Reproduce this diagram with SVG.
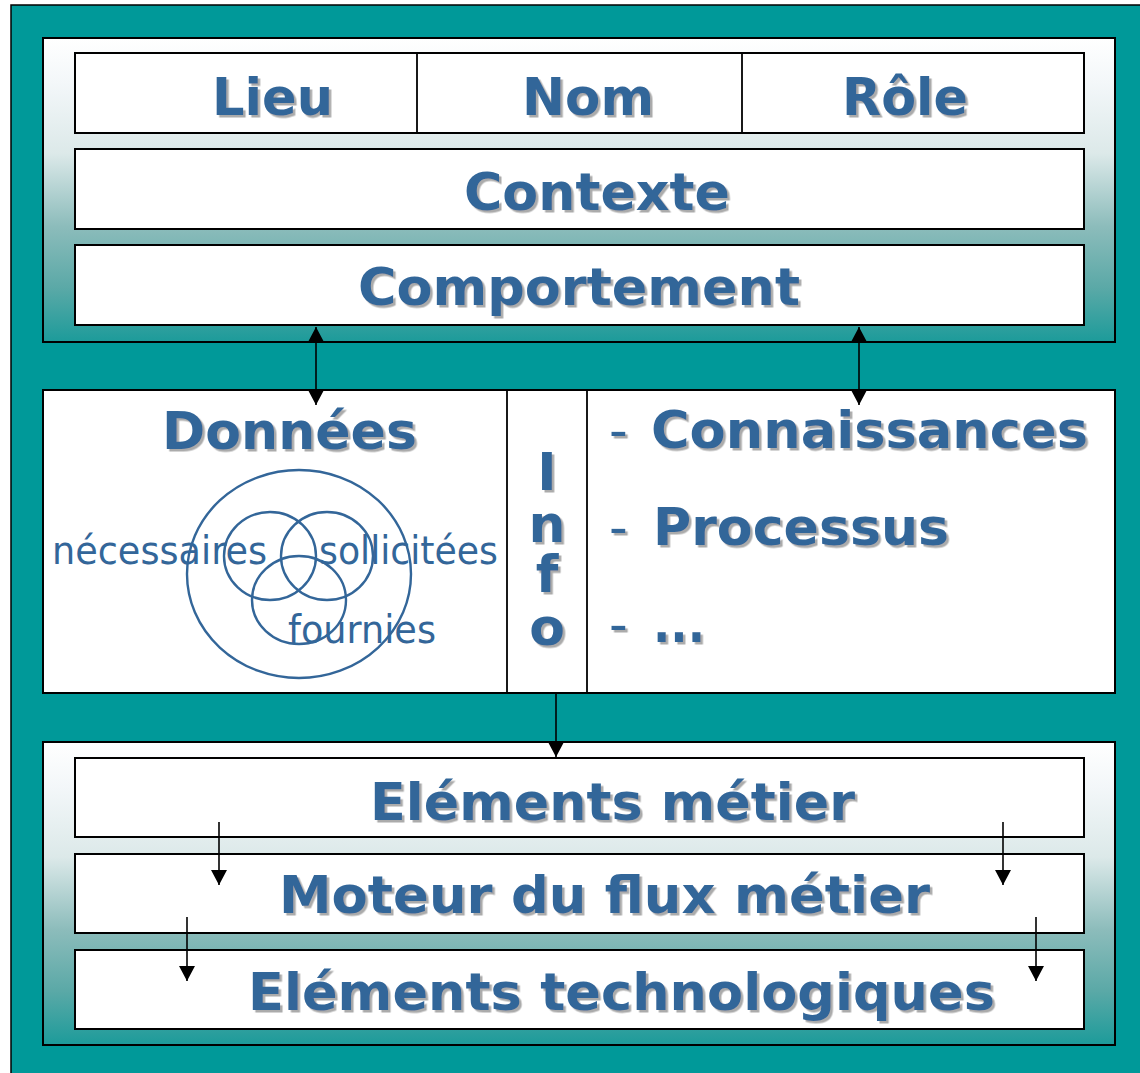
<svg xmlns="http://www.w3.org/2000/svg" width="1140" height="1073" viewBox="0 0 1140 1073">
  <style>
    .box { fill: #ffffff; stroke: #000000; stroke-width: 2; }
    .panel { stroke: #000000; stroke-width: 2; }
    .div { stroke: #000000; stroke-width: 1.8; fill: none; }
    .t { font-family: "DejaVu Sans", Verdana, sans-serif; font-weight: bold; font-size: 52px; fill: #336699; filter: url(#sh); }
    .d { font-family: "DejaVu Sans", Verdana, sans-serif; font-size: 52px; fill: #336699; filter: url(#sh); }
    .n { font-family: "DejaVu Sans", Verdana, sans-serif; font-size: 39px; fill: #336699; }
    .venn { fill: none; stroke: #336699; stroke-width: 2.4; }
    .conn { stroke: #000000; stroke-width: 1.6; fill: none; }
  </style>
  <defs>
    <linearGradient id="pg" x1="0" y1="0" x2="0" y2="1">
      <stop offset="0" stop-color="#ffffff"/>
      <stop offset="0.15" stop-color="#f3f7f9"/>
      <stop offset="0.38" stop-color="#dce9e9"/>
      <stop offset="0.62" stop-color="#8cbcbb"/>
      <stop offset="0.82" stop-color="#5ba9a7"/>
      <stop offset="1" stop-color="#1c9b9a"/>
    </linearGradient>
    <filter id="sh" x="-5%" y="-20%" width="115%" height="150%">
      <feDropShadow dx="2.5" dy="2.5" stdDeviation="0.7" flood-color="#8f8f8f" flood-opacity="0.75"/>
    </filter>
    <marker id="ah" viewBox="0 0 15 16" markerUnits="userSpaceOnUse" markerWidth="15" markerHeight="16" refX="15" refY="8" orient="auto-start-reverse">
      <path d="M0,0 L15,8 L0,16 z" fill="#000000"/>
    </marker>
  </defs>

  <rect x="0" y="0" width="1140" height="1073" fill="#ffffff"/>
  <rect id="frame" x="11" y="5" width="1140" height="1080" fill="#009999" stroke="#000000" stroke-width="1.5"/>

  <g id="top-panel">
    <rect class="panel" x="43" y="38" width="1072" height="304" fill="url(#pg)"/>
  </g>
  <g id="identity">
    <rect class="box" x="75" y="53" width="1009" height="80"/>
    <line class="div" x1="417" y1="53" x2="417" y2="133"/>
    <line class="div" x1="742" y1="53" x2="742" y2="133"/>
    <text class="t" x="212" y="115" textLength="121" lengthAdjust="spacingAndGlyphs">Lieu</text>
    <text class="t" x="522" y="115" textLength="132" lengthAdjust="spacingAndGlyphs">Nom</text>
    <text class="t" x="842" y="115" textLength="126" lengthAdjust="spacingAndGlyphs">Rôle</text>
  </g>
  <g id="contexte">
    <rect class="box" x="75" y="149" width="1009" height="80"/>
    <text class="t" x="464" y="210" textLength="266" lengthAdjust="spacingAndGlyphs">Contexte</text>
  </g>
  <g id="comportement">
    <rect class="box" x="75" y="245" width="1009" height="80"/>
    <text class="t" x="358" y="305" textLength="442" lengthAdjust="spacingAndGlyphs">Comportement</text>
  </g>

  <g id="middle-panel">
    <rect class="box" x="43" y="390" width="1072" height="303"/>
    <line class="div" x1="507" y1="390" x2="507" y2="693"/>
    <line class="div" x1="587" y1="390" x2="587" y2="693"/>
  </g>
  <g id="donnees">
    <text class="t" x="162" y="449" textLength="255" lengthAdjust="spacingAndGlyphs">Données</text>
    <ellipse class="venn" cx="299" cy="574" rx="112" ry="104"/>
    <ellipse class="venn" cx="270" cy="556" rx="46" ry="44"/>
    <ellipse class="venn" cx="327" cy="556" rx="46" ry="44"/>
    <ellipse class="venn" cx="299" cy="600" rx="47" ry="44"/>
    <text class="n" x="52" y="564" textLength="215" lengthAdjust="spacingAndGlyphs">nécessaires</text>
    <text class="n" x="319" y="564" textLength="179" lengthAdjust="spacingAndGlyphs">sollicitées</text>
    <text class="n" x="288" y="643" textLength="148" lengthAdjust="spacingAndGlyphs">fournies</text>
  </g>
  <g id="info">
    <text class="t" text-anchor="middle"><tspan x="547" y="490">I</tspan><tspan x="547" y="542">n</tspan><tspan x="547" y="592">f</tspan><tspan x="547" y="645">o</tspan></text>
  </g>
  <g id="liste">
    <text class="d" x="609" y="448">-</text>
    <text class="t" x="651" y="448" textLength="437" lengthAdjust="spacingAndGlyphs">Connaissances</text>
    <text class="d" x="609" y="545">-</text>
    <text class="t" x="653" y="545" textLength="296" lengthAdjust="spacingAndGlyphs">Processus</text>
    <text class="d" x="609" y="642">-</text>
    <text class="t" x="653" y="642" textLength="52" lengthAdjust="spacingAndGlyphs">...</text>
  </g>

  <g id="bottom-panel">
    <rect class="panel" x="43" y="742" width="1072" height="303" fill="url(#pg)"/>
  </g>
  <g id="elements-metier">
    <rect class="box" x="75" y="758" width="1009" height="79"/>
    <text class="t" x="370" y="820" textLength="485" lengthAdjust="spacingAndGlyphs">Eléments métier</text>
  </g>
  <g id="moteur">
    <rect class="box" x="75" y="854" width="1009" height="79"/>
    <text class="t" x="279" y="913" textLength="651" lengthAdjust="spacingAndGlyphs">Moteur du flux métier</text>
  </g>
  <g id="elements-techno">
    <rect class="box" x="75" y="950" width="1009" height="79"/>
    <text class="t" x="248" y="1010" textLength="747" lengthAdjust="spacingAndGlyphs">Eléments technologiques</text>
  </g>

  <g id="connectors">
    <path class="conn" d="M316,327 V405" marker-start="url(#ah)" marker-end="url(#ah)"/>
    <path class="conn" d="M859,327 V405" marker-start="url(#ah)" marker-end="url(#ah)"/>
    <path class="conn" d="M556,693 V757" marker-end="url(#ah)"/>
    <path class="conn" d="M219,822 V885" marker-end="url(#ah)"/>
    <path class="conn" d="M187,917 V981" marker-end="url(#ah)"/>
    <path class="conn" d="M1003,822 V885" marker-end="url(#ah)"/>
    <path class="conn" d="M1036,917 V981" marker-end="url(#ah)"/>
  </g>
</svg>
